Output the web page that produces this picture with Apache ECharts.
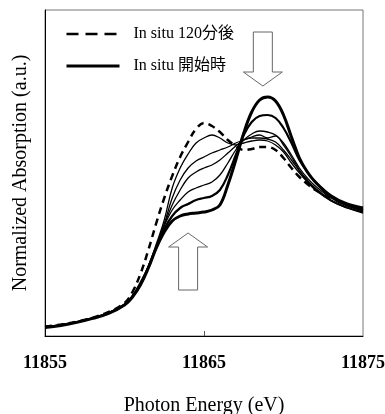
<!DOCTYPE html>
<html>
<head>
<meta charset="utf-8">
<script src="https://cdn.jsdelivr.net/npm/echarts/dist/echarts.min.js"></script>
<style>
  html, body { margin: 0; padding: 0; background: #fff; }
  #chart { width: 385px; height: 414px; }
</style>
</head>
<body>
<div id="chart"></div>
<script>
// photon energy (eV)
var energies = [11855, 11856, 11857, 11858, 11859, 11860, 11860.5, 11861, 11861.5, 11862, 11862.5,
  11863, 11863.5, 11864, 11864.5, 11865, 11865.5, 11866, 11866.5, 11867, 11867.5, 11868, 11868.5,
  11869, 11869.5, 11870, 11870.5, 11871, 11871.5, 11872, 11873, 11874, 11875];

// In situ 120分後 (dashed)
var after120 = [0.047, 0.057, 0.072, 0.092, 0.12, 0.165, 0.22, 0.31, 0.43, 0.565, 0.69,
  0.80, 0.895, 0.97, 1.035, 1.065, 1.05, 1.02, 0.98, 0.95, 0.93, 0.935, 0.945,
  0.945, 0.93, 0.89, 0.84, 0.795, 0.76, 0.73, 0.69, 0.655, 0.63];

// In situ 開始時 (thick)
var start = [0.043, 0.053, 0.068, 0.088, 0.113, 0.155, 0.195, 0.255, 0.34, 0.44, 0.52,
  0.575, 0.60, 0.61, 0.615, 0.62, 0.63, 0.655, 0.755, 0.88, 1.015, 1.12, 1.18,
  1.195, 1.175, 1.105, 0.995, 0.89, 0.82, 0.77, 0.70, 0.66, 0.64];

// intermediate spectra
var mid1 = [0.045, 0.055, 0.07, 0.089, 0.114, 0.156, 0.196, 0.256, 0.342, 0.442, 0.535,
  0.60, 0.64, 0.66, 0.68, 0.69, 0.70, 0.73, 0.805, 0.905, 1.005, 1.07, 1.10,
  1.105, 1.09, 1.04, 0.965, 0.88, 0.82, 0.77, 0.695, 0.655, 0.63];
var mid2 = [0.044, 0.054, 0.069, 0.088, 0.114, 0.156, 0.197, 0.258, 0.345, 0.445, 0.55,
  0.63, 0.68, 0.72, 0.74, 0.755, 0.77, 0.805, 0.865, 0.93, 0.98, 1.01, 1.025,
  1.02, 1.005, 0.965, 0.905, 0.84, 0.79, 0.75, 0.69, 0.65, 0.625];
var mid3 = [0.045, 0.055, 0.07, 0.089, 0.115, 0.157, 0.198, 0.26, 0.347, 0.447, 0.555,
  0.655, 0.73, 0.79, 0.82, 0.84, 0.855, 0.88, 0.915, 0.95, 0.98, 0.995, 1.005,
  0.99, 1.0, 0.955, 0.895, 0.83, 0.78, 0.74, 0.68, 0.645, 0.62];
var mid4 = [0.046, 0.056, 0.071, 0.09, 0.116, 0.158, 0.2, 0.262, 0.35, 0.45, 0.56,
  0.69, 0.78, 0.84, 0.875, 0.895, 0.915, 0.93, 0.945, 0.965, 0.98, 0.99, 0.99,
  0.985, 0.97, 0.93, 0.88, 0.825, 0.775, 0.735, 0.675, 0.64, 0.615];
var mid5 = [0.046, 0.056, 0.071, 0.091, 0.117, 0.16, 0.203, 0.27, 0.35, 0.46, 0.58,
  0.74, 0.84, 0.91, 0.965, 0.99, 1.005, 0.99, 0.965, 0.955, 0.965, 0.975, 0.98,
  0.975, 0.955, 0.92, 0.865, 0.815, 0.77, 0.73, 0.675, 0.64, 0.62];

var xTickLabels = [11855, 11865, 11875];

// arrow tips [energy, absorption]
var upArrowAt = [11864, 0.515];
var downArrowAt = [11868.7, 1.25];

var serif = "'Liberation Serif', 'Times New Roman', 'Noto Sans CJK JP', serif";

function pairs(vals) {
  return energies.map(function (e, i) { return [e, vals[i]]; });
}

function thinLine(name, vals, width) {
  return {
    name: name,
    type: "line",
    data: pairs(vals),
    symbol: "none",
    smooth: 0.4,
    color: "#000",
    lineStyle: { color: "#000", width: width },
    z: 2
  };
}

var chart = echarts.init(document.getElementById("chart"));

chart.setOption({
  animation: false,
  grid: {
    left: 45,
    right: 22,
    top: 10,
    bottom: 78,
    show: true,
    borderColor: "#777",
    borderWidth: 1,
    outerBoundsMode: "none"
  },
  legend: {
    orient: "vertical",
    left: 60,
    top: 21,
    itemWidth: 53,
    itemHeight: 16,
    itemGap: 16,
    selectedMode: false,
    data: [
      { name: "In situ 120分後", itemStyle: { opacity: 0 }, lineStyle: { type: [12, 7], width: 2.5 } },
      { name: "In situ 開始時", itemStyle: { opacity: 0 }, lineStyle: { width: 3 } }
    ],
    textStyle: {
      color: "#000",
      fontSize: 16,
      fontFamily: serif,
      padding: [0, 0, 0, 9]
    }
  },
  xAxis: {
    type: "value",
    min: 11855,
    max: 11875,
    interval: 5,
    name: "Photon Energy (eV)",
    nameLocation: "middle",
    nameGap: 60,
    nameTextStyle: { color: "#000", fontSize: 20, fontFamily: serif },
    axisLine: { show: true, lineStyle: { color: "#000", width: 1 } },
    axisTick: {
      show: true,
      inside: true,
      length: 5,
      customValues: [11865],
      lineStyle: { color: "#555" }
    },
    axisLabel: {
      customValues: xTickLabels,
      formatter: function (v) { return String(v); },
      color: "#000",
      fontSize: 18,
      fontWeight: "bold",
      fontFamily: serif,
      margin: 18
    },
    splitLine: { show: false }
  },
  yAxis: {
    type: "value",
    min: 0,
    max: 1.63,
    name: "Normalized Absorption (a.u.)",
    nameLocation: "middle",
    nameGap: 14,
    nameTextStyle: { color: "#000", fontSize: 20, fontFamily: serif },
    axisLine: { show: true, lineStyle: { color: "#000", width: 1 } },
    axisTick: { show: false },
    axisLabel: { show: false },
    splitLine: { show: false }
  },
  series: [
    {
      name: "In situ 開始時",
      type: "line",
      data: pairs(start),
      symbol: "none",
      smooth: 0.4,
      color: "#000",
      lineStyle: { color: "#000", width: 3 },
      z: 3
    },
    thinLine("途中1", mid1, 2.2),
    thinLine("途中2", mid2, 1.3),
    thinLine("途中3", mid3, 1.3),
    thinLine("途中4", mid4, 1.3),
    thinLine("途中5", mid5, 1.3),
    {
      name: "In situ 120分後",
      type: "line",
      data: pairs(after120),
      symbol: "none",
      smooth: 0.4,
      color: "#000",
      lineStyle: { color: "#000", width: 2.5, type: [7, 5] },
      z: 4
    }
  ]
});

// hollow block arrows placed from data coordinates
function arrowPoints(tip, dir, len) {
  var t = chart.convertToPixel({ gridIndex: 0 }, tip);
  var shape = [[0, 0], [19.5, 14], [9.5, 14], [9.5, len], [-9.5, len], [-9.5, 14], [-19.5, 14]];
  return shape.map(function (p) { return [t[0] + p[0], t[1] + dir * p[1]]; });
}

chart.setOption({
  graphic: [
    {
      type: "polygon",
      shape: { points: arrowPoints(upArrowAt, 1, 57) },
      style: { fill: "#fff", stroke: "#666", lineWidth: 1 },
      z: 100
    },
    {
      type: "polygon",
      shape: { points: arrowPoints(downArrowAt, -1, 54) },
      style: { fill: "#fff", stroke: "#666", lineWidth: 1 },
      z: 100
    }
  ]
});
</script>
</body>
</html>
